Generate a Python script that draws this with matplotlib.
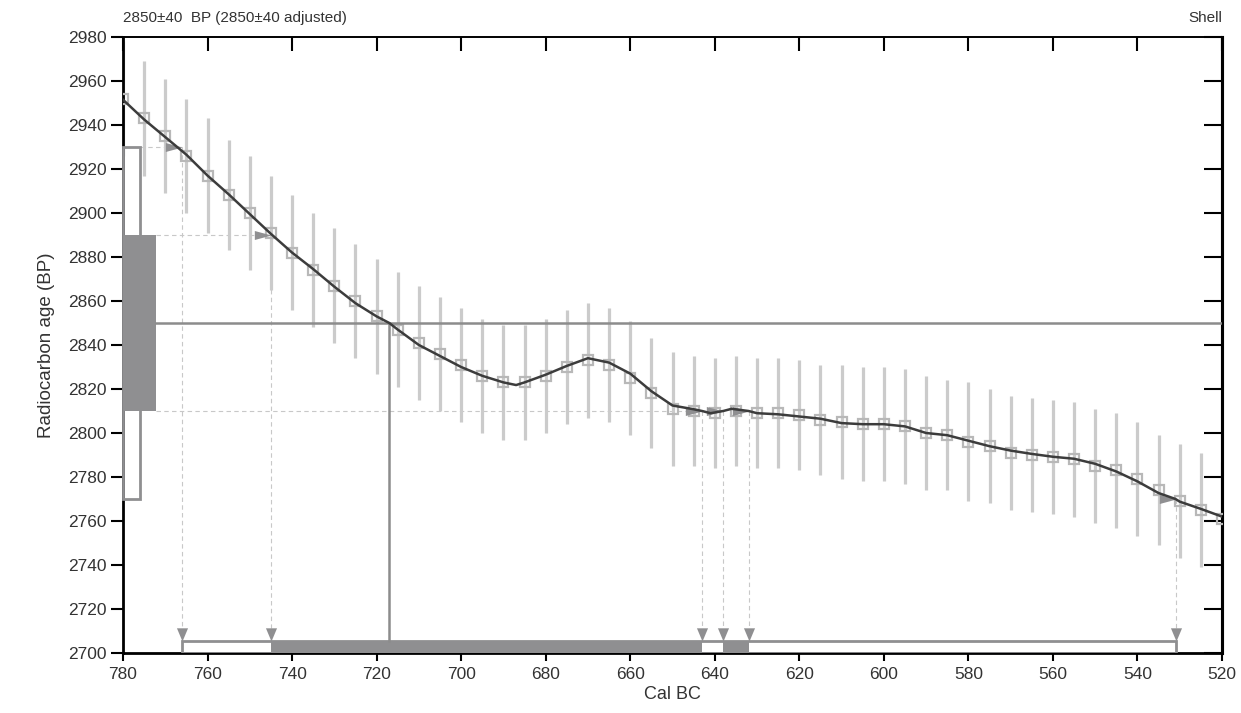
import matplotlib
matplotlib.use("Agg")
import matplotlib.pyplot as plt
import matplotlib.transforms as mtransforms

plt.rcParams['font.family'] = ['Liberation Sans', 'DejaVu Sans']

# ---------------- data ----------------
# calibration data points (cal BC) with radiocarbon age (BP) and 1-sigma error
cal_years = [780, 775, 770, 765, 760, 755, 750, 745, 740, 735, 730, 725, 720, 715,
             710, 705, 700, 695, 690, 685, 680, 675, 670, 665, 660, 655, 650, 645,
             640, 635, 630, 625, 620, 615, 610, 605, 600, 595, 590, 585, 580, 575,
             570, 565, 560, 555, 550, 545, 540, 535, 530, 525, 520]
c14_age = [2952, 2943, 2935, 2926, 2917, 2908, 2900, 2891, 2882, 2874, 2867, 2860, 2853, 2847,
           2841, 2836, 2831, 2826, 2823, 2823, 2826, 2830, 2833, 2831, 2825, 2818, 2811, 2810,
           2809, 2810, 2809, 2809, 2808, 2806, 2805, 2804, 2804, 2803, 2800, 2799, 2796, 2794,
           2791, 2790, 2789, 2788, 2785, 2783, 2779, 2774, 2769, 2765, 2761]
c14_err = [26, 26, 26, 26, 26, 25, 26, 26, 26, 26, 26, 26, 26, 26,
           26, 26, 26, 26, 26, 26, 26, 26, 26, 26, 26, 25, 26, 25,
           25, 25, 25, 25, 25, 25, 26, 26, 26, 26, 26, 25, 27, 26,
           26, 26, 26, 26, 26, 26, 26, 25, 26, 26, 26]

# smoothed calibration curve
curve_years = [780, 775, 770, 765, 760, 755, 750, 745, 740, 735, 730, 725, 720, 717,
               715, 710, 705, 700, 695, 690, 687, 685, 680, 675, 670, 665, 660, 655,
               650, 645, 643, 641, 638, 636, 632, 630, 625, 620, 615, 610, 605, 600,
               595, 590, 585, 580, 575, 570, 565, 560, 555, 550, 545, 540, 535, 531,
               530, 525, 520]
curve_age = [2951.5, 2942.5, 2934.5, 2926.5, 2917, 2908.5, 2899.5, 2890.5, 2882, 2874.5, 2866.5, 2859, 2853, 2850,
             2847, 2840, 2835, 2830, 2826, 2823, 2821.8, 2823, 2826.5, 2830.5, 2834, 2832, 2827, 2819,
             2812.5, 2810.8, 2810, 2809, 2810, 2811, 2810, 2809, 2808.5, 2807.5, 2806.5, 2804.5, 2804, 2804,
             2803, 2800, 2799, 2796.5, 2794, 2792, 2790.5, 2789.2, 2788.3, 2786, 2782.5, 2778, 2772.7, 2770,
             2768.8, 2765.5, 2762]

# measured date
date_bp = 2850
date_err = 40
sigma1_bp = (2810, 2890)
sigma2_bp = (2770, 2930)

# calibrated ranges (cal BC)
sigma1_ranges = [(745, 643), (638, 632)]
sigma2_ranges = [(766, 531)]
intercept_year = 717

# intercept markers: (year, level BP)
intercepts = [(766, 2930), (745, 2890), (643, 2810), (638, 2810), (632, 2810), (531, 2770)]
dashed_levels = [(2930, 766), (2890, 745), (2810, 643)]

x_ticks = list(range(780, 519, -20))
y_ticks = list(range(2700, 2981, 20))

# ---------------- figure ----------------
W, H = 1241, 713
fig = plt.figure(figsize=(W / 100, H / 100), dpi=100)
L, R, T, B = 123, 1222, 37, 653
ax = fig.add_axes([L / W, 1 - B / H, (R - L) / W, (B - T) / H])
ax.set_xlim(780, 520)
ax.set_ylim(2700, 2980)

bar_color = '#8f8f91'
light = '#cbcbcb'
dash_col = '#c8c8c8'
blend = mtransforms.blended_transform_factory(ax.transAxes, ax.transData)

# error bars and data squares
lo = [a - e for a, e in zip(c14_age, c14_err)]
hi = [a + e for a, e in zip(c14_age, c14_err)]
ax.vlines(cal_years, lo, hi, color=light, lw=2.3, zorder=2)
ax.plot(cal_years, c14_age, 's', mfc='none', mec='#b8b8b8', ms=7.8, mew=1.6, zorder=3)

# curve
ax.plot(curve_years, curve_age, '-', color='#3c3c3c', lw=1.8, zorder=5)

# y-axis probability bars
ax.add_patch(plt.Rectangle((0, sigma2_bp[0]), 0.0155, sigma2_bp[1] - sigma2_bp[0],
                           transform=blend, fill=False, ec=bar_color, lw=2, zorder=4, clip_on=False))
ax.add_patch(plt.Rectangle((0, sigma1_bp[0]), 0.030, sigma1_bp[1] - sigma1_bp[0],
                           transform=blend, fc=bar_color, ec='none', zorder=4))

# horizontal line at measured date
ax.plot([0.030, 1.0], [date_bp, date_bp], transform=blend, color='#8c8c8c', lw=1.8, zorder=4)

# dashed horizontal lines
for lev, yr in dashed_levels:
    x0 = 0.0155 if lev in sigma2_bp else 0.030
    ax.plot([780 - x0 * 260, yr], [lev, lev], ls=(0, (4, 3)), color=dash_col, lw=0.8, zorder=1)

# bottom bars
bar_lo, bar_hi = 2700, 2705.5
for a, b in sigma2_ranges:
    ax.add_patch(plt.Rectangle((b, bar_lo), a - b, bar_hi - bar_lo, fill=False,
                               ec=bar_color, lw=2, zorder=4))
for a, b in sigma1_ranges:
    ax.add_patch(plt.Rectangle((b, bar_lo), a - b, bar_hi - bar_lo, fc=bar_color,
                               ec='none', zorder=4))

# vertical intercept line
ax.plot([intercept_year, intercept_year], [bar_hi, date_bp], color='#8c8c8c', lw=1.8, zorder=4)

# vertical dashed lines and arrows
down_arrow = [(0, 0), (-0.42, 1), (0.42, 1), (0, 0)]
right_arrow = [(0, 0), (-1, 0.27), (-1, -0.27), (0, 0)]
for yr, lev in intercepts:
    ax.plot([yr, yr], [lev, bar_hi + 6], ls=(0, (4, 3)), color=dash_col, lw=0.8, zorder=1)
    ax.plot([yr], [bar_hi], marker=down_arrow, ms=19, color=bar_color, mec='none', zorder=4)
    ax.plot([yr], [lev], marker=right_arrow, ms=24, color=bar_color, mec='none', zorder=4)

# axes styling
for s in ['left', 'bottom', 'right', 'top']:
    ax.spines[s].set_color('black')
ax.spines['left'].set_linewidth(2)
ax.spines['bottom'].set_linewidth(2)
ax.spines['right'].set_linewidth(2.2)
ax.spines['top'].set_linewidth(1.2)

ax.set_xticks(x_ticks)
ax.set_yticks(y_ticks)
ax.tick_params(axis='x', direction='out', length=6, width=1.5, labelsize=12.5, pad=4, colors='black')
ax.tick_params(axis='y', direction='out', length=9, width=1.5, labelsize=12.5, pad=3)
for lab in ax.get_xticklabels() + ax.get_yticklabels():
    lab.set_color('#333333')

sec_top = ax.secondary_xaxis('top')
sec_top.set_xticks(x_ticks)
sec_top.tick_params(direction='in', length=10, width=1.5, labeltop=False)
sec_top.spines['top'].set_linewidth(1.2)
sec_right = ax.secondary_yaxis('right')
sec_right.set_yticks(y_ticks)
sec_right.tick_params(direction='in', length=13, width=1.5, labelright=False)
sec_right.spines['right'].set_linewidth(2.2)

ax.set_xlabel('Cal BC', fontsize=13, color='#333333', labelpad=3)
ax.set_ylabel('Radiocarbon age (BP)', fontsize=13.5, color='#333333', labelpad=9)

fig.text(L / W, 1 - 18 / H, '2850±40  BP (2850±40 adjusted)', fontsize=11,
         color='#333333', ha='left', va='center')
fig.text(R / W, 1 - 18 / H, 'Shell', fontsize=11, color='#333333', ha='right', va='center')

fig.savefig('out.png', dpi=100)
